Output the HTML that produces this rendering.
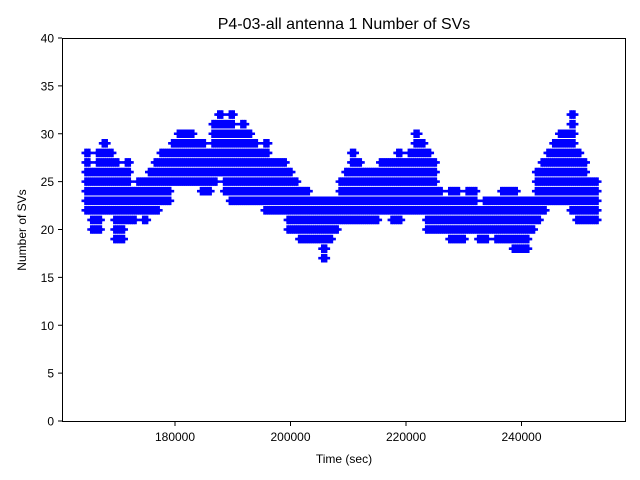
<!DOCTYPE html>
<html><head><meta charset="utf-8"><style>body{margin:0;background:#fff}svg{display:block;font-family:"Liberation Sans","DejaVu Sans",sans-serif}</style></head>
<body>
<svg id="chart" width="640" height="480" viewBox="0 0 640 480">
<rect x="0" y="0" width="640" height="480" fill="#fff"/>
<text x="344" y="29" text-anchor="middle" font-size="16">P4-03-all antenna 1 Number of SVs</text>
<g id="marks"></g>
<rect x="62.5" y="38.5" width="563" height="383" fill="none" stroke="#000" stroke-width="1"/>
<g id="axes"></g>
<text x="344" y="463" text-anchor="middle" font-size="12">Time (sec)</text>
<text x="26" y="230" text-anchor="middle" font-size="12" transform="rotate(-90 26 230)">Number of SVs</text>
</svg>
<script>
const times = [165000,166000,167000,168000,169000,170000,171000,172000,173000,174000,175000,176000,177000,178000,179000,180000,181000,182000,183000,184000,185000,186000,187000,188000,189000,190000,191000,192000,193000,194000,195000,196000,197000,198000,199000,200000,201000,202000,203000,204000,205000,206000,207000,208000,209000,210000,211000,212000,213000,214000,215000,216000,217000,218000,219000,220000,221000,222000,223000,224000,225000,226000,227000,228000,229000,230000,231000,232000,233000,234000,235000,236000,237000,238000,239000,240000,241000,242000,243000,244000,245000,246000,247000,248000,249000,250000,251000,252000,253000];
const minSVs = [22,20,20,22,22,19,19,21,21,22,21,22,22,23,23,25,25,25,25,25,24,24,25,26,24,23,23,23,23,23,23,22,22,22,22,20,20,19,19,19,19,17,19,20,21,21,21,21,21,21,21,22,22,21,21,22,22,22,22,20,20,20,20,19,19,19,20,20,19,19,20,19,19,19,18,18,18,20,21,22,23,23,23,23,22,21,21,21,21];
const maxSVs = [28,26,28,29,28,27,26,27,24,25,25,26,27,28,28,29,30,30,30,29,29,28,31,32,31,32,30,31,30,29,28,29,27,27,27,26,25,24,24,23,23,23,23,23,25,26,28,27,26,26,26,27,27,27,28,27,28,30,29,28,27,24,23,24,24,23,24,24,22,23,23,23,24,24,24,23,23,23,26,27,28,29,30,30,32,28,27,25,25];
const yTicks = [0,5,10,15,20,25,30,35,40];
const xTicks = [180000,200000,220000,240000];
const xS = t => 175 + (t - 180000) / 20000 * 115.5;
const yS = v => 421 - v * 9.575;
const NS = 'http://www.w3.org/2000/svg';
const marks = document.getElementById('marks');
times.forEach((t, i) => {
  for (let v = minSVs[i]; v <= maxSVs[i]; v++) {
    for (const off of [0, 333, 666]) {
      const x = xS(t + off - 500), y = yS(v);
      const p = document.createElementNS(NS, 'path');
      p.setAttribute('d', `M${x-4},${y}H${x+4}M${x},${y-4.3}V${y+4.3}`);
      p.setAttribute('stroke', '#0000ff');
      p.setAttribute('stroke-width', '2.6');
      
      
      marks.appendChild(p);
    }
  }
});
const axes = document.getElementById('axes');
yTicks.forEach(v => {
  const y = yS(v);
  const l = document.createElementNS(NS, 'line');
  l.setAttribute('x1', 58); l.setAttribute('x2', 62); l.setAttribute('y1', y); l.setAttribute('y2', y);
  l.setAttribute('stroke', '#000');
  
  
  axes.appendChild(l);
  const tx = document.createElementNS(NS, 'text');
  tx.setAttribute('x', 54); tx.setAttribute('y', y + 4.5);
  tx.setAttribute('text-anchor', 'end'); tx.setAttribute('font-size', '12');
  tx.textContent = v;
  
  
  axes.appendChild(tx);
});
xTicks.forEach(t => {
  const x = xS(t);
  const l = document.createElementNS(NS, 'line');
  l.setAttribute('x1', x); l.setAttribute('x2', x); l.setAttribute('y1', 422); l.setAttribute('y2', 426);
  l.setAttribute('stroke', '#000');
  
  
  axes.appendChild(l);
  const tx = document.createElementNS(NS, 'text');
  tx.setAttribute('x', x); tx.setAttribute('y', 441);
  tx.setAttribute('text-anchor', 'middle'); tx.setAttribute('font-size', '12');
  tx.textContent = t;
  
  
  axes.appendChild(tx);
});
</script>
</body></html>
